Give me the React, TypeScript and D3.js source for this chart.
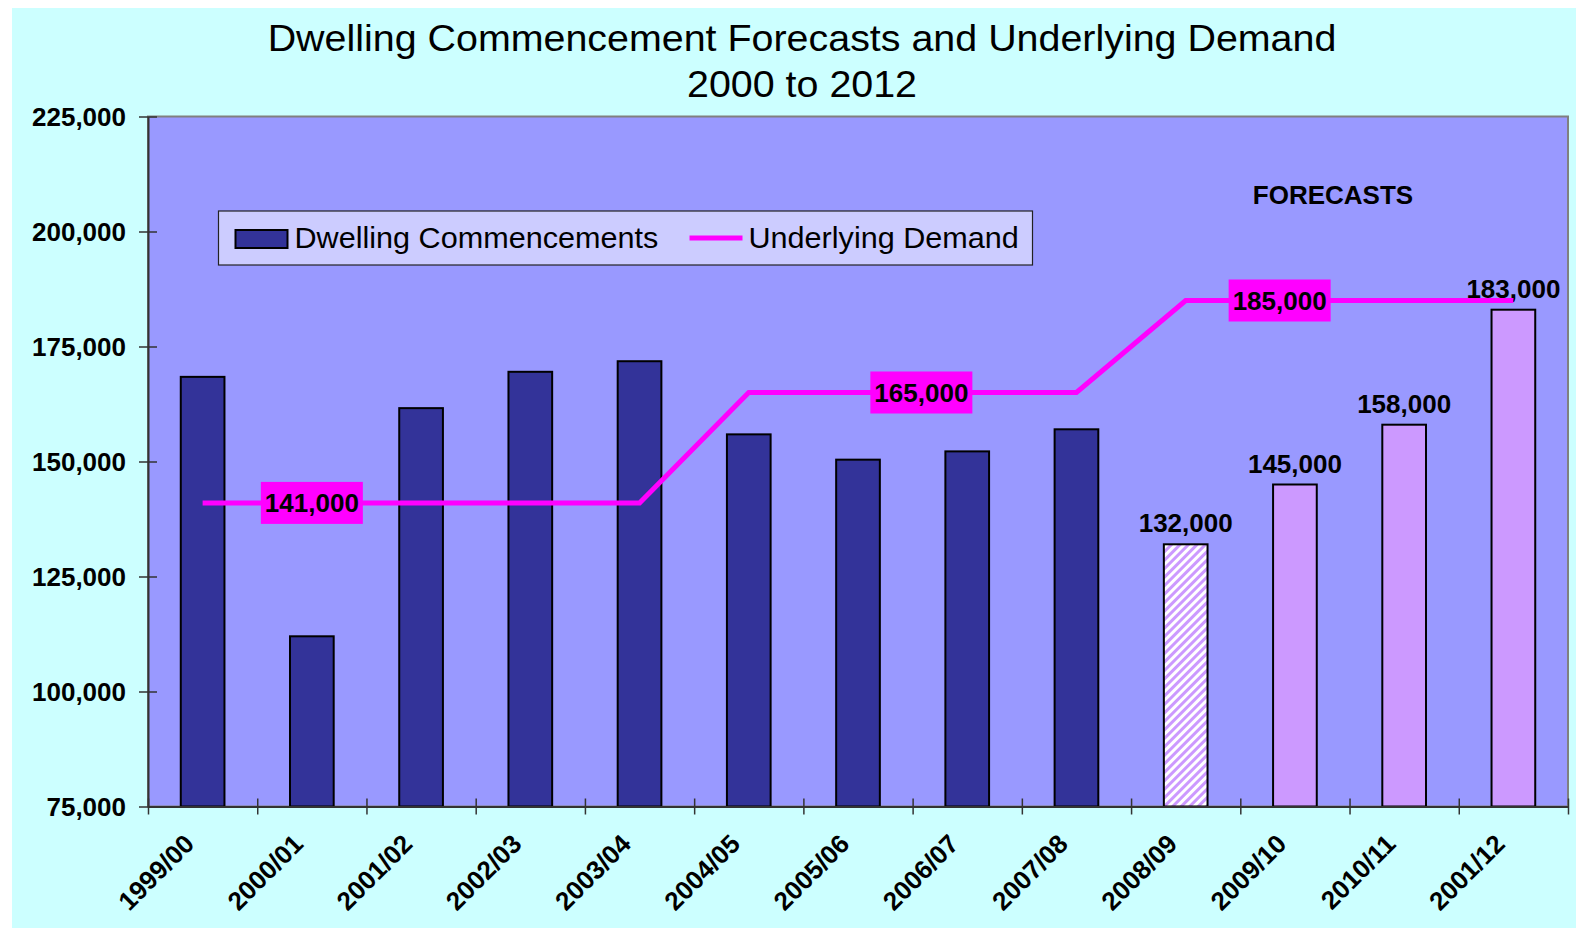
import React, { useEffect, useRef } from 'react';
import * as d3 from 'd3';

const periods = [
  '1999/00', '2000/01', '2001/02', '2002/03', '2003/04', '2004/05', '2005/06',
  '2006/07', '2007/08', '2008/09', '2009/10', '2010/11', '2001/12',
];
const commencements = [
  168400, 112000, 161600, 169500, 171800, 155900, 150400,
  152200, 157000, 132000, 145000, 158000, 183000,
];
// 'actual' | 'partial' (hatched) | 'forecast'
const barKinds = [
  'actual', 'actual', 'actual', 'actual', 'actual', 'actual', 'actual',
  'actual', 'actual', 'partial', 'forecast', 'forecast', 'forecast',
];
const demand = [
  141000, 141000, 141000, 141000, 141000, 165000, 165000,
  165000, 165000, 185000, 185000, 185000, 185000,
];
const demandLabelValues = [141000, 165000, 185000];
const demandLabelSlots = [1.0, 6.58, 9.86]; // fractional category index of label box
const yTicks = [75000, 100000, 125000, 150000, 175000, 200000, 225000];

const W = 1576, H = 931;
const margin = { top: 116.5, right: 8, bottom: 124.5, left: 148 };
const FONT = '"Liberation Sans", Arial, Helvetica, sans-serif';
const fmt = d3.format(',');

const App = () => {
  const yAxisRef = useRef<SVGGElement>(null);
  const xAxisRef = useRef<SVGGElement>(null);

  const x = d3.scaleBand<string>()
    .domain(periods)
    .range([margin.left, W - margin.right])
    .paddingInner(0.6)
    .paddingOuter(0.3);

  const xi = d3.scaleLinear()
    .domain([0, periods.length])
    .range([margin.left, W - margin.right]);

  const y = d3.scaleLinear()
    .domain([75000, 225000])
    .range([H - margin.bottom, margin.top]);

  const cx = (i: number) => xi(i + 0.5);

  useEffect(() => {
    const ya = d3.select(yAxisRef.current);
    ya.selectAll('*').remove();
    ya.call(d3.axisLeft(y).tickValues(yTicks).tickFormat(() => '').tickSizeOuter(0).tickSizeInner(9));
    ya.selectAll('.tick line').attr('x2', -9).attr('x1', 9).attr('stroke', '#333').attr('stroke-width', 1.5);
    ya.select('.domain').attr('stroke', '#333').attr('stroke-width', 2);

    const xa = d3.select(xAxisRef.current);
    xa.selectAll('*').remove();
    xa.call(d3.axisBottom(xi).tickValues(d3.range(periods.length + 1)).tickFormat(() => '').tickSizeOuter(0).tickSizeInner(8));
    xa.selectAll('.tick line').attr('y1', -8).attr('y2', 8).attr('stroke', '#333').attr('stroke-width', 1.5);
    xa.select('.domain').attr('stroke', '#333').attr('stroke-width', 2);
  }, []);

  const line = d3.line<number>()
    .x((_, i) => cx(i))
    .y(d => y(d));

  const plotW = W - margin.left - margin.right;
  const plotH = H - margin.top - margin.bottom;

  return (
    <svg width={W} height={H} style={{ position: 'absolute', left: 0, top: 0, fontFamily: FONT }}>
      <defs>
        <pattern id="hatch" width="6" height="6" patternUnits="userSpaceOnUse" patternTransform="rotate(45)">
          <rect width="6" height="6" fill="#ffffff" />
          <rect width="3" height="6" fill="#cc99ff" />
        </pattern>
      </defs>
      <rect x={0} y={0} width={W} height={H} fill="#ffffff" />
      <rect x={12} y={8} width={W - 12} height={920} fill="#ccffff" />

      {/* Title */}
      <g transform="translate(802,0) scale(1.065,1)">
        <text x={0} y={51} textAnchor="middle" fontSize={37} fill="#000">
          Dwelling Commencement Forecasts and Underlying Demand
        </text>
        <text x={0} y={97} textAnchor="middle" fontSize={37} fill="#000">2000 to 2012</text>
      </g>

      {/* Plot area */}
      <rect x={margin.left} y={margin.top} width={plotW} height={plotH} fill="#9999ff" stroke="#808080" strokeWidth={2} />

      {/* Bars */}
      {commencements.map((v, i) => (
        <rect
          key={periods[i]}
          x={x(periods[i])}
          y={y(v)}
          width={x.bandwidth()}
          height={y(75000) - y(v)}
          fill={barKinds[i] === 'actual' ? '#333399' : barKinds[i] === 'partial' ? 'url(#hatch)' : '#cc99ff'}
          stroke="#000"
          strokeWidth={2}
        />
      ))}

      {/* Forecast bar labels */}
      {commencements.map((v, i) => barKinds[i] === 'actual' ? null : (
        <text key={'bl' + i} x={cx(i)} y={y(v) - 12} textAnchor="middle"
          fontSize={26} fontWeight="bold" fill="#000">
          {fmt(v)}
        </text>
      ))}

      {/* Underlying demand line */}
      <path d={line(demand) ?? ''} fill="none" stroke="#ff00ff" strokeWidth={5} strokeLinejoin="miter" />

      {demandLabelValues.map((v, k) => (
        <g key={'dl' + v} transform={`translate(${cx(demandLabelSlots[k])},${y(v)})`}>
          <rect x={-51} y={-21} width={102} height={42} fill="#ff00ff" />
          <text y={9} textAnchor="middle" fontSize={26} fontWeight="bold" fill="#000">{fmt(v)}</text>
        </g>
      ))}

      <text x={1333} y={204} textAnchor="middle" fontSize={26} fontWeight="bold" fill="#000">FORECASTS</text>

      {/* Legend */}
      <g transform="translate(218.5,211)">
        <rect width={814} height={54} fill="#ccccff" stroke="#222" strokeWidth={1.2} />
        <rect x={17} y={19} width={52} height={18} fill="#333399" stroke="#000" strokeWidth={2} />
        <text transform="translate(76,37) scale(1.055,1)" fontSize={29} fill="#000">Dwelling Commencements</text>
        <line x1={471} x2={524} y1={27} y2={27} stroke="#ff00ff" strokeWidth={5} />
        <text transform="translate(530,37) scale(1.055,1)" fontSize={29} fill="#000">Underlying Demand</text>
      </g>

      {/* Axes */}
      <g ref={yAxisRef} transform={`translate(${margin.left},0)`} />
      <g ref={xAxisRef} transform={`translate(0,${H - margin.bottom})`} />

      {yTicks.map(t => (
        <text key={'yt' + t} x={126} y={y(t) + 9.5} textAnchor="end" fontSize={26} fontWeight="bold" fill="#000">
          {fmt(t)}
        </text>
      ))}

      {periods.map((p, i) => (
        <text key={'xt' + p} transform={`translate(${cx(i) - 7},${H - margin.bottom + 39}) rotate(-45)`}
          textAnchor="end" fontSize={26} fontWeight="bold" fill="#000">
          {p}
        </text>
      ))}
    </svg>
  );
};

export default App;
